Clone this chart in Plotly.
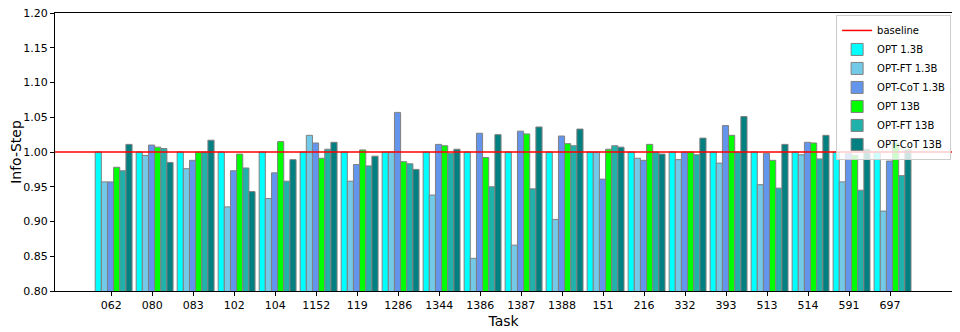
import plotly.graph_objects as go

tasks = ['062', '080', '083', '102', '104', '1152', '119', '1286', '1344', '1386',
         '1387', '1388', '151', '216', '332', '393', '513', '514', '591', '697']

opt_13 = [1.000] * 20
opt_ft_13 = [0.957, 0.995, 0.976, 0.921, 0.933, 1.024, 0.958, 1.000, 0.938, 0.847,
             0.866, 0.903, 1.000, 0.991, 0.989, 0.984, 0.953, 0.996, 0.957, 0.915]
opt_cot_13 = [0.957, 1.010, 0.988, 0.973, 0.970, 1.013, 0.982, 1.057, 1.011, 1.027,
              1.030, 1.023, 0.961, 0.988, 1.000, 1.038, 0.998, 1.014, 0.998, 0.987]
opt_130 = [0.978, 1.007, 1.000, 0.997, 1.015, 0.991, 1.003, 0.986, 1.009, 0.992,
           1.026, 1.012, 1.004, 1.011, 1.000, 1.024, 0.988, 1.013, 0.995, 1.013]
opt_ft_130 = [0.973, 1.005, 1.000, 0.977, 0.958, 1.004, 0.980, 0.983, 0.998, 0.950,
              0.947, 1.009, 1.009, 1.000, 0.996, 1.000, 0.948, 0.990, 0.945, 0.966]
opt_cot_130 = [1.011, 0.985, 1.017, 0.943, 0.989, 1.014, 0.994, 0.975, 1.004, 1.025,
               1.036, 1.033, 1.007, 0.997, 1.020, 1.051, 1.011, 1.024, 1.004, 1.003]

names = ['OPT 1.3B', 'OPT-FT 1.3B', 'OPT-CoT 1.3B', 'OPT 13B', 'OPT-FT 13B', 'OPT-CoT 13B']
series = [opt_13, opt_ft_13, opt_cot_13, opt_130, opt_ft_130, opt_cot_130]
colors = ['#00FFFF', '#72C9E8', '#6495ED', '#00FF00', '#20B2AA', '#008080']

yticks = [0.80, 0.85, 0.90, 0.95, 1.00, 1.05, 1.10, 1.15, 1.20]

xs = list(range(len(tasks)))

fig = go.Figure()
for name, vals, col in zip(names, series, colors):
    fig.add_trace(go.Bar(x=xs, y=vals, name=name,
                         marker=dict(color=col, line=dict(color='#808080', width=1))))

# baseline at 1.0
fig.add_shape(type='line', xref='paper', x0=0, x1=1, y0=1.0, y1=1.0,
              line=dict(color='red', width=1.5), layer='above',
              showlegend=True, name='baseline', legendrank=1)

# page body has an 8px margin, so the figure is a bit smaller than the window
font = 'DejaVu Sans, sans-serif'
fig.update_layout(
    width=952, height=324,
    margin=dict(l=47, r=8, t=5, b=41),
    plot_bgcolor='white', paper_bgcolor='white',
    barmode='group', bargap=0.1, bargroupgap=0,
    font=dict(family=font, size=11, color='black'),
    legend=dict(x=0.999, y=0.993, xanchor='right', yanchor='top',
                bgcolor='rgba(255,255,255,0.8)', bordercolor='#cccccc', borderwidth=1,
                font=dict(size=10), tracegroupgap=0, itemwidth=30),
    xaxis=dict(range=[-1.43, 20.45], tickvals=[x - 0.06 for x in xs], ticktext=tasks,
               showline=True, mirror=True, linecolor='black', linewidth=1,
               ticks='outside', ticklen=4, tickcolor='black', showgrid=False, zeroline=False,
               automargin=False,
               title=dict(text='Task', font=dict(size=14), standoff=4)),
    yaxis=dict(range=[0.80, 1.20], tickvals=yticks, tickformat='.2f',
               showline=True, mirror=True, linecolor='black', linewidth=1,
               ticks='outside', ticklen=4, tickcolor='black', showgrid=False, zeroline=False,
               automargin=False, ticklabeloverflow='allow',
               title=dict(text='Info-Step', font=dict(size=14), standoff=6)),
)

fig.write_html('out.html')
